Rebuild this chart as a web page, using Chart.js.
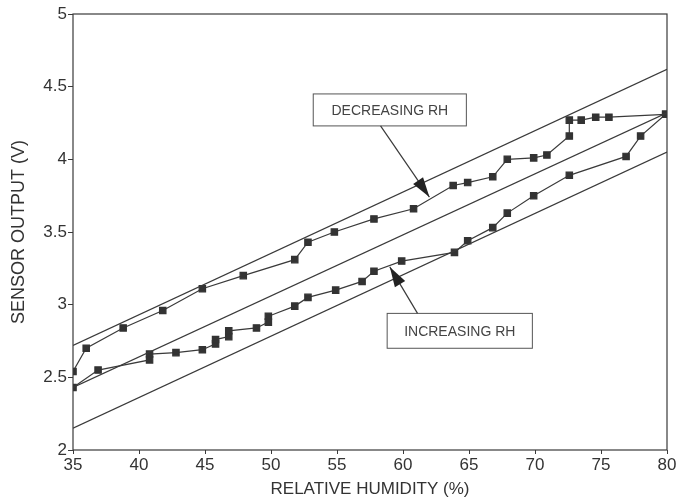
<!DOCTYPE html>
<html>
<head>
<meta charset="utf-8">
<script src="https://cdn.jsdelivr.net/npm/chart.js@4.4.0/dist/chart.umd.min.js"></script>
<style>
  html, body { margin: 0; padding: 0; background: #fff; }
  #wrap { width: 682px; height: 501px; }
</style>
</head>
<body>
<div id="wrap"><canvas id="myChart" width="682" height="501"></canvas></div>
<script>
// decreasing RH run (upper trace)
const decX = [35, 36, 38.8, 41.8, 44.8, 47.9, 51.8, 52.8, 54.8, 57.8, 60.8, 63.8, 64.9, 66.8, 67.9, 69.9, 70.9, 72.6, 72.6, 73.5, 74.6, 75.6, 79.9];
const decY = [2.54, 2.70, 2.84, 2.96, 3.11, 3.20, 3.31, 3.43, 3.50, 3.59, 3.66, 3.82, 3.84, 3.88, 4.00, 4.01, 4.03, 4.16, 4.27, 4.27, 4.29, 4.29, 4.31];

// increasing RH run (lower trace)
const incX = [35, 36.9, 40.8, 40.8, 42.8, 44.8, 45.8, 45.8, 46.8, 46.8, 48.9, 49.8, 49.8, 51.8, 52.8, 54.9, 56.9, 57.8, 59.9, 63.9, 64.9, 66.8, 67.9, 69.9, 72.6, 76.9, 78, 79.9];
const incY = [2.43, 2.55, 2.62, 2.66, 2.67, 2.69, 2.73, 2.76, 2.78, 2.82, 2.84, 2.88, 2.92, 2.99, 3.05, 3.10, 3.16, 3.23, 3.30, 3.36, 3.44, 3.53, 3.63, 3.75, 3.89, 4.02, 4.16, 4.31];

// straight guide lines
const guideX = [35, 80];
const upperLine = [2.72, 4.62];
const middleLine = [2.43, 4.32];
const lowerLine = [2.15, 4.05];

const xTicks = [35, 40, 45, 50, 55, 60, 65, 70, 75, 80];
const yTicks = [2, 2.5, 3, 3.5, 4, 4.5, 5];

const ink = '#3a3a3a';

function pts(xs, ys) {
    return xs.map((x, i) => ({ x: x, y: ys[i] }));
}

function guide(ys) {
    return {
        data: pts(guideX, ys),
        showLine: true,
        borderColor: ink,
        borderWidth: 1.3,
        pointRadius: 0
    };
}

function series(xs, ys) {
    return {
        data: pts(xs, ys),
        showLine: true,
        borderColor: ink,
        borderWidth: 1.2,
        pointStyle: 'rect',
        pointRadius: 4.5,
        pointBackgroundColor: '#333',
        pointBorderColor: '#333'
    };
}

// text boxes with arrows, placed in data units
const notes = [
    { text: 'DECREASING RH', x0: 53.2, x1: 64.8, y0: 4.45, y1: 4.23, ax: 58.3, ay: 4.23, tx: 62.0, ty: 3.74 },
    { text: 'INCREASING RH', x0: 58.8, x1: 69.8, y0: 2.94, y1: 2.70, ax: 61.1, ay: 2.94, tx: 59.0, ty: 3.26 }
];

const frame = {
    id: 'frame',
    afterDatasetsDraw(chart) {
        const { ctx, chartArea: a, scales } = chart;
        ctx.save();
        ctx.strokeStyle = ink;
        ctx.lineWidth = 1.2;
        ctx.strokeRect(a.left, a.top, a.right - a.left, a.bottom - a.top);

        ctx.font = '14px "Liberation Sans", Arial, sans-serif';
        ctx.textAlign = 'center';
        ctx.textBaseline = 'middle';
        notes.forEach(n => {
            const l = scales.x.getPixelForValue(n.x0);
            const r = scales.x.getPixelForValue(n.x1);
            const t = scales.y.getPixelForValue(n.y0);
            const b = scales.y.getPixelForValue(n.y1);
            ctx.fillStyle = '#fff';
            ctx.fillRect(l, t, r - l, b - t);
            ctx.strokeStyle = '#555';
            ctx.lineWidth = 1;
            ctx.strokeRect(l, t, r - l, b - t);
            ctx.fillStyle = '#444';
            ctx.fillText(n.text, (l + r) / 2, (t + b) / 2 + 1);

            const sx = scales.x.getPixelForValue(n.ax);
            const sy = scales.y.getPixelForValue(n.ay);
            const ex = scales.x.getPixelForValue(n.tx);
            const ey = scales.y.getPixelForValue(n.ty);
            const ang = Math.atan2(ey - sy, ex - sx);
            ctx.strokeStyle = ink;
            ctx.lineWidth = 1.2;
            ctx.beginPath();
            ctx.moveTo(sx, sy);
            ctx.lineTo(ex, ey);
            ctx.stroke();
            ctx.fillStyle = '#222';
            ctx.beginPath();
            ctx.moveTo(ex, ey);
            ctx.lineTo(ex - 20 * Math.cos(ang) + 6 * Math.sin(ang), ey - 20 * Math.sin(ang) - 6 * Math.cos(ang));
            ctx.lineTo(ex - 20 * Math.cos(ang) - 6 * Math.sin(ang), ey - 20 * Math.sin(ang) + 6 * Math.cos(ang));
            ctx.closePath();
            ctx.fill();
        });
        ctx.restore();
    }
};

const config = {
    type: 'scatter',
    data: {
        datasets: [
            guide(upperLine),
            guide(middleLine),
            guide(lowerLine),
            series(decX, decY),
            series(incX, incY)
        ]
    },
    options: {
        responsive: false,
        animation: false,
        layout: { padding: { top: 14, right: 15, left: 0, bottom: 0 } },
        plugins: {
            legend: { display: false },
            tooltip: { enabled: false }
        },
        scales: {
            x: {
                type: 'linear',
                min: 35,
                max: 80,
                afterBuildTicks: s => { s.ticks = xTicks.map(v => ({ value: v })); },
                afterFit: s => { s.height = 51; },
                grid: { display: true, drawOnChartArea: false, tickLength: 4, color: ink },
                border: { display: false },
                ticks: {
                    color: '#333',
                    padding: 1,
                    font: { family: '"Liberation Sans", Arial, sans-serif', size: 17 }
                },
                title: {
                    display: true,
                    text: 'RELATIVE HUMIDITY (%)',
                    color: '#333',
                    padding: { top: 0, bottom: 1 },
                    font: { family: '"Liberation Sans", Arial, sans-serif', size: 17 }
                }
            },
            y: {
                type: 'linear',
                min: 2,
                max: 5,
                afterBuildTicks: s => { s.ticks = yTicks.map(v => ({ value: v })); },
                afterFit: s => { s.width = 73; },
                grid: { display: true, drawOnChartArea: false, tickLength: 5, color: ink },
                border: { display: false },
                ticks: {
                    color: '#333',
                    padding: 1,
                    callback: v => String(v),
                    font: { family: '"Liberation Sans", Arial, sans-serif', size: 17 }
                },
                title: {
                    display: true,
                    text: 'SENSOR OUTPUT (V)',
                    color: '#333',
                    padding: { top: 8, bottom: 0 },
                    font: { family: '"Liberation Sans", Arial, sans-serif', size: 18 }
                }
            }
        }
    },
    plugins: [frame]
};

const myChart = new Chart(document.getElementById('myChart'), config);
</script>
</body>
</html>
